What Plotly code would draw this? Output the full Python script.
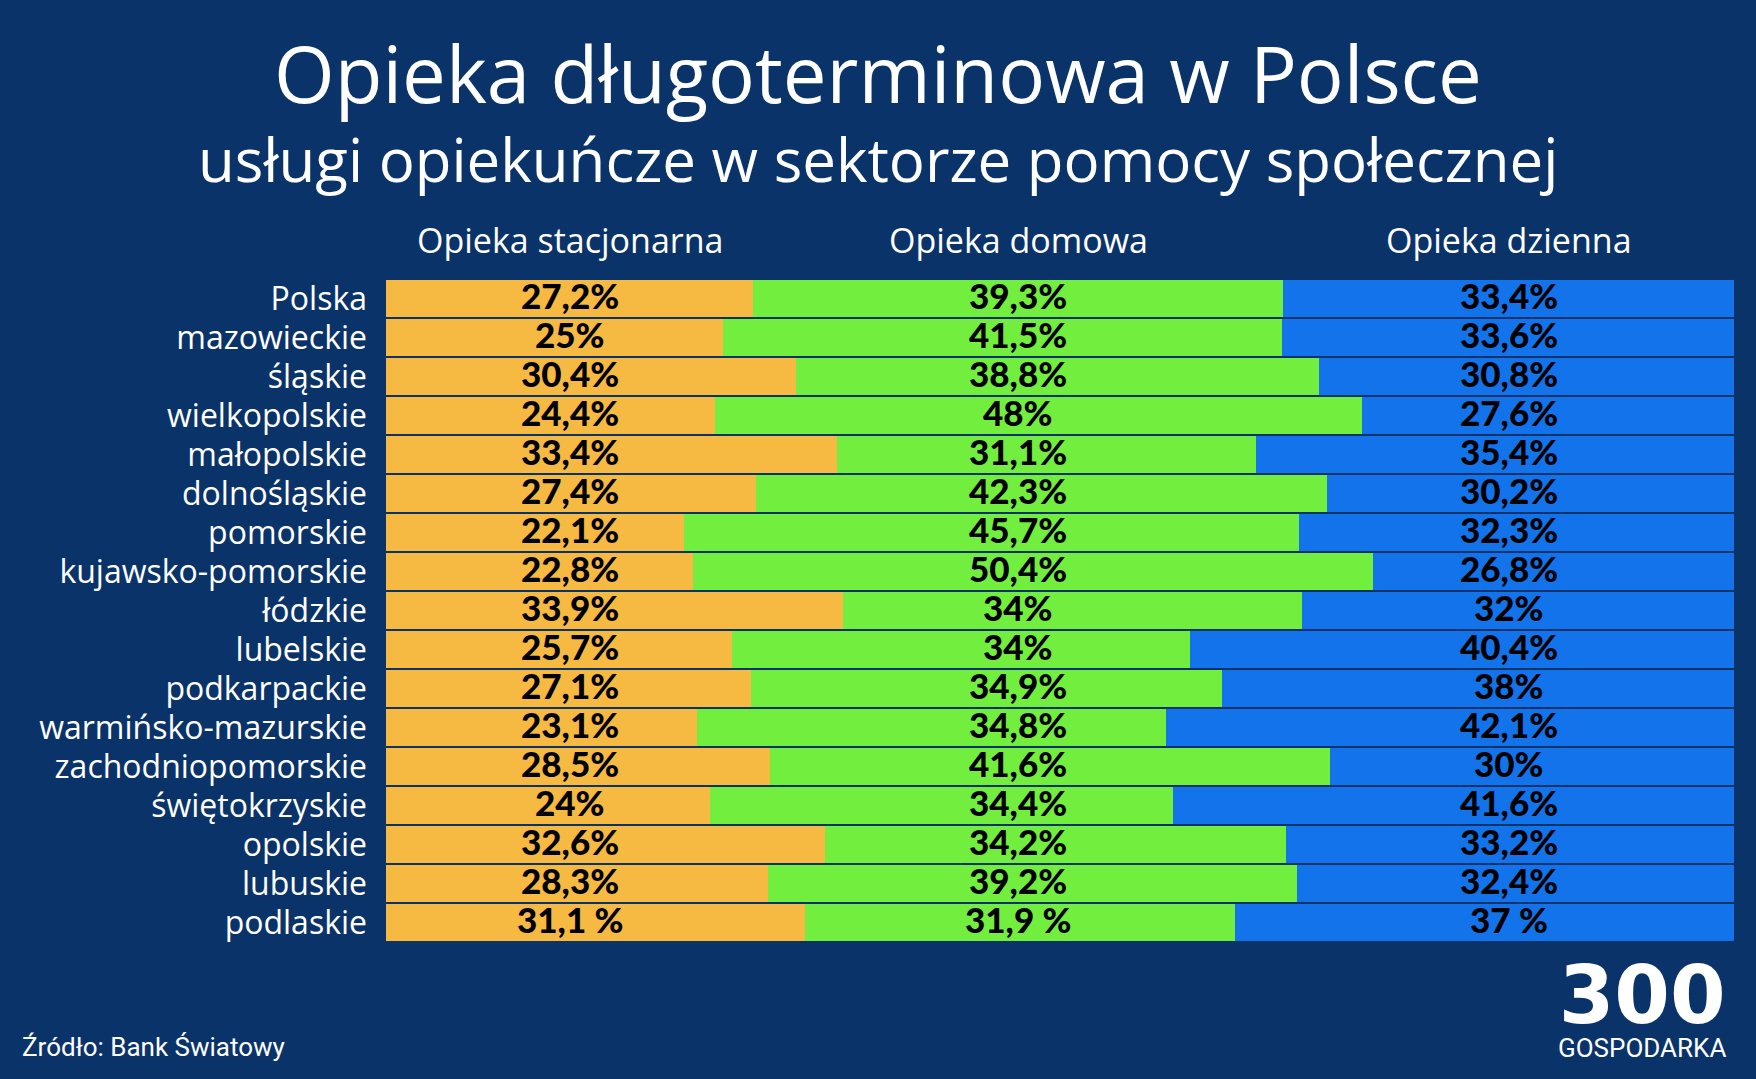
import plotly.graph_objects as go

regions = ["Polska", "mazowieckie", "śląskie", "wielkopolskie", "małopolskie",
           "dolnośląskie", "pomorskie", "kujawsko-pomorskie", "łódzkie", "lubelskie",
           "podkarpackie", "warmińsko-mazurskie", "zachodniopomorskie",
           "świętokrzyskie", "opolskie", "lubuskie", "podlaskie"]

stacjonarna = [27.2, 25, 30.4, 24.4, 33.4, 27.4, 22.1, 22.8, 33.9, 25.7, 27.1, 23.1, 28.5, 24, 32.6, 28.3, 31.1]
domowa      = [39.3, 41.5, 38.8, 48, 31.1, 42.3, 45.7, 50.4, 34, 34, 34.9, 34.8, 41.6, 34.4, 34.2, 39.2, 31.9]
dzienna     = [33.4, 33.6, 30.8, 27.6, 35.4, 30.2, 32.3, 26.8, 32, 40.4, 38, 42.1, 30, 41.6, 33.2, 32.4, 37]

# the last row in the source uses a space before the percent sign
pct_sep = [""] * 16 + [" "]

series_names = ["Opieka stacjonarna", "Opieka domowa", "Opieka dzienna"]
series_values = [stacjonarna, domowa, dzienna]
series_colors = ["#F6B942", "#72EF3E", "#1273EA"]

BG = "#0A3369"
W, H = 1756, 1079
L, R, T, B = 386, 22, 279, 137
PW, PH = W - L - R, H - T - B


def px_x(px):
    return (px - L) / PW


def px_y(py):
    return (H - B - py) / PH


def fmt(v, sep):
    s = f"{v:g}".replace(".", ",")
    return f"{s}{sep}%"


fig = go.Figure()
for name, vals, col in zip(series_names, series_values, series_colors):
    fig.add_trace(go.Bar(
        y=regions, x=vals, orientation="h", name=name,
        marker=dict(color=col, line=dict(width=0)),
        hoverinfo="skip",
    ))

# value labels aligned in columns centred on the first (Polska) row's segments
first_total = sum(v[0] for v in series_values)
cum = 0.0
for name, vals in zip(series_names, series_values):
    centre = (cum + vals[0] / 2) / first_total * 100
    cum += vals[0]
    for reg, v, s in zip(regions, vals, pct_sep):
        fig.add_annotation(
            x=centre, xref="x", y=reg, yref="y", yshift=4,
            text=fmt(v, s), showarrow=False,
            xanchor="center", yanchor="middle",
            font=dict(family="Lato", size=35, color="#000000", weight=900),
        )
    # column header
    fig.add_annotation(
        x=centre, xref="x", y=px_y(240), yref="paper",
        text=name, showarrow=False, xanchor="center", yanchor="middle",
        font=dict(family="Open Sans", size=34, color="#FFFFFF"),
    )

fig.update_layout(
    width=W, height=H,
    paper_bgcolor=BG, plot_bgcolor=BG,
    barmode="stack", barnorm="percent", bargap=0.075,
    showlegend=False,
    margin=dict(l=L, r=R, t=T, b=B, pad=0),
    xaxis=dict(range=[0, 100], visible=False, fixedrange=True),
    yaxis=dict(range=[len(regions) - 0.5, -0.5], autorange=False,
               tickmode="array", tickvals=regions, ticktext=regions,
               showgrid=False, zeroline=False, fixedrange=True,
               showline=False, ticks="", ticklabelstandoff=18,
               tickfont=dict(family="Open Sans", size=32, color="#FFFFFF")),
    font=dict(family="Open Sans", color="#FFFFFF"),
)

# titles
fig.add_annotation(x=px_x(878), xref="paper", y=px_y(73), yref="paper",
                   text="Opieka długoterminowa w Polsce", showarrow=False,
                   xanchor="center", yanchor="middle",
                   font=dict(family="Open Sans", size=78, color="#FFFFFF", weight=500))
fig.add_annotation(x=px_x(878), xref="paper", y=px_y(159), yref="paper",
                   text="usługi opiekuńcze w sektorze pomocy społecznej", showarrow=False,
                   xanchor="center", yanchor="middle",
                   font=dict(family="Open Sans", size=60, color="#FFFFFF", weight=500))

# source
fig.add_annotation(x=px_x(20), xref="paper", y=px_y(1047), yref="paper",
                   text="Źródło: Bank Światowy", showarrow=False,
                   xanchor="left", yanchor="middle",
                   font=dict(family="Roboto", size=26, color="#FFFFFF"))

# logo (one two-line text block)
fig.add_annotation(x=px_x(1642), xref="paper", y=px_y(1064), yref="paper",
                   text="<span style='font-family:DejaVu Sans;font-size:80px;"
                        "font-weight:bold'>300</span><br>GOSPODARKA",
                   showarrow=False, align="center",
                   xanchor="center", yanchor="bottom", borderpad=0,
                   font=dict(family="Roboto", size=26, color="#FFFFFF"))

fig.write_html(
    "out.html",
    config={"displayModeBar": False},
    post_script="document.body.style.margin='0';"
                "document.body.style.background='" + BG + "';"
                "document.body.style.overflow='hidden';",
)
